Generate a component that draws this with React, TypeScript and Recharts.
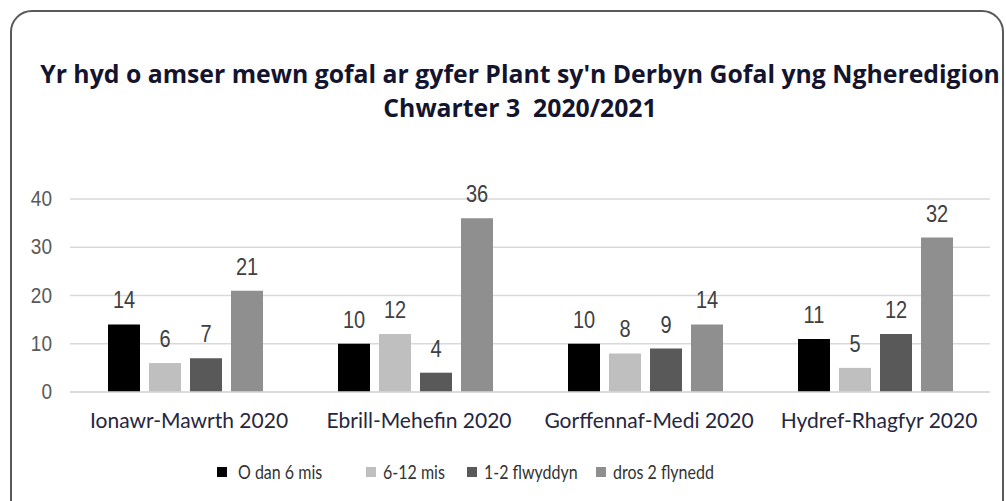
import React from 'react';
import { BarChart, Bar, XAxis, YAxis, CartesianGrid, Legend, LabelList } from 'recharts';

const categories = ['Ionawr-Mawrth 2020', 'Ebrill-Mehefin 2020', 'Gorffennaf-Medi 2020', 'Hydref-Rhagfyr 2020'];
const under6Months = [14, 10, 10, 11];
const sixTo12Months = [6, 12, 8, 5];
const oneTo2Years = [7, 4, 9, 12];
const over2Years = [21, 36, 14, 32];
const seriesNames = ['O dan 6 mis', '6-12 mis', '1-2 flwyddyn', 'dros 2 flynedd'];
const seriesKeys = ['s0', 's1', 's2', 's3'];
const seriesColors = ['#000000', '#BFBFBF', '#595959', '#8F8F8F'];
const yTicks = [0, 10, 20, 30, 40];
const titleLines = ["Yr hyd o amser mewn gofal ar gyfer Plant sy'n Derbyn Gofal yng Ngheredigion", 'Chwarter 3  2020/2021'];

const data = categories.map((c, i) => ({
  name: c,
  s0: under6Months[i],
  s1: sixTo12Months[i],
  s2: oneTo2Years[i],
  s3: over2Years[i],
}));

const numFont = '"Liberation Sans", Arial, sans-serif';
const textFont = 'Lato, "Open Sans", sans-serif';
const titleFont = '"Open Sans", Lato, sans-serif';

const DataLabel = (props: any) => {
  const { x, y, width, value } = props;
  const cx = Number(x) + Number(width) / 2;
  const cy = Number(y) - 24;
  return (
    <text
      transform={`translate(${cx},${cy}) scale(1,1.15)`}
      textAnchor="middle"
      dominantBaseline="central"
      fontFamily={numFont}
      fontSize={20}
      fill="#404040"
    >
      {value}
    </text>
  );
};

const YTick = (props: any) => {
  const { y, payload } = props;
  return (
    <text
      transform={`translate(52,${Number(y) - 1}) scale(1,1.15)`}
      textAnchor="end"
      dominantBaseline="central"
      fontFamily={numFont}
      fontSize={19}
      fill="#595959"
    >
      {payload.value}
    </text>
  );
};

const XTick = (props: any) => {
  const { x, y, payload } = props;
  return (
    <text
      transform={`translate(${Number(x) + 4},${Number(y) + 19})`}
      textAnchor="middle"
      dominantBaseline="central"
      fontFamily={textFont}
      fontSize={21}
      fill="#262640"
    >
      {payload.value}
    </text>
  );
};

const itemLefts = [217, 366, 467, 596];

const LegendContent = () => (
  <div style={{ position: 'relative', width: 1006, height: 20 }}>
    {seriesNames.map((n, i) => (
      <div
        key={n}
        style={{ position: 'absolute', left: itemLefts[i], top: 0, height: 20, display: 'flex', alignItems: 'center' }}
      >
        <span style={{ display: 'inline-block', width: 10, height: 10, background: seriesColors[i], marginRight: i === 0 ? 11 : 7 }} />
        <span
          style={{
            fontFamily: textFont,
            fontSize: 16,
            color: '#333333',
            display: 'inline-block',
            transform: 'scaleY(1.15)',
            whiteSpace: 'nowrap',
            lineHeight: '20px',
          }}
        >
          {n}
        </span>
      </div>
    ))}
  </div>
);

export default function App() {
  return (
    <div style={{ position: 'absolute', left: 0, top: 0, width: 1006, height: 501, background: '#ffffff', overflow: 'hidden' }}>
      <div
        style={{
          position: 'absolute',
          left: 10,
          top: 10,
          width: 990,
          height: 540,
          border: '2px solid #595959',
          borderRadius: 22,
        }}
      />
      {titleLines.map((t, i) => (
        <div
          key={i}
          style={{
            position: 'absolute',
            left: 20,
            width: 1000,
            top: i === 0 ? 56 : 90,
            height: 34,
            lineHeight: '34px',
            textAlign: 'center',
            fontFamily: titleFont,
            fontWeight: 700,
            fontSize: 24.8,
            color: '#14142e',
            whiteSpace: 'pre',
          }}
        >
          {t}
        </div>
      ))}
      <div style={{ position: 'absolute', left: 0, top: 0 }}>
        <BarChart
          width={1006}
          height={501}
          data={data}
          margin={{ top: 199, right: 16, bottom: 19, left: 10 }}
          barSize={32}
          barGap={9}
        >
          <CartesianGrid vertical={false} stroke="#D9D9D9" strokeWidth={1.5} />
          <XAxis
            dataKey="name"
            height={70}
            axisLine={{ stroke: '#D9D9D9', strokeWidth: 1.5 }}
            tickLine={false}
            tick={<XTick />}
            interval={0}
          />
          <YAxis
            width={60}
            domain={[0, 40]}
            ticks={yTicks}
            axisLine={false}
            tickLine={false}
            tick={<YTick />}
          />
          <Legend verticalAlign="bottom" wrapperStyle={{ left: 0, width: 1006 }} content={<LegendContent />} />
          {seriesKeys.map((k, i) => (
            <Bar key={k} dataKey={k} name={seriesNames[i]} fill={seriesColors[i]} isAnimationActive={false}>
              <LabelList dataKey={k} content={<DataLabel />} />
            </Bar>
          ))}
        </BarChart>
      </div>
    </div>
  );
}
